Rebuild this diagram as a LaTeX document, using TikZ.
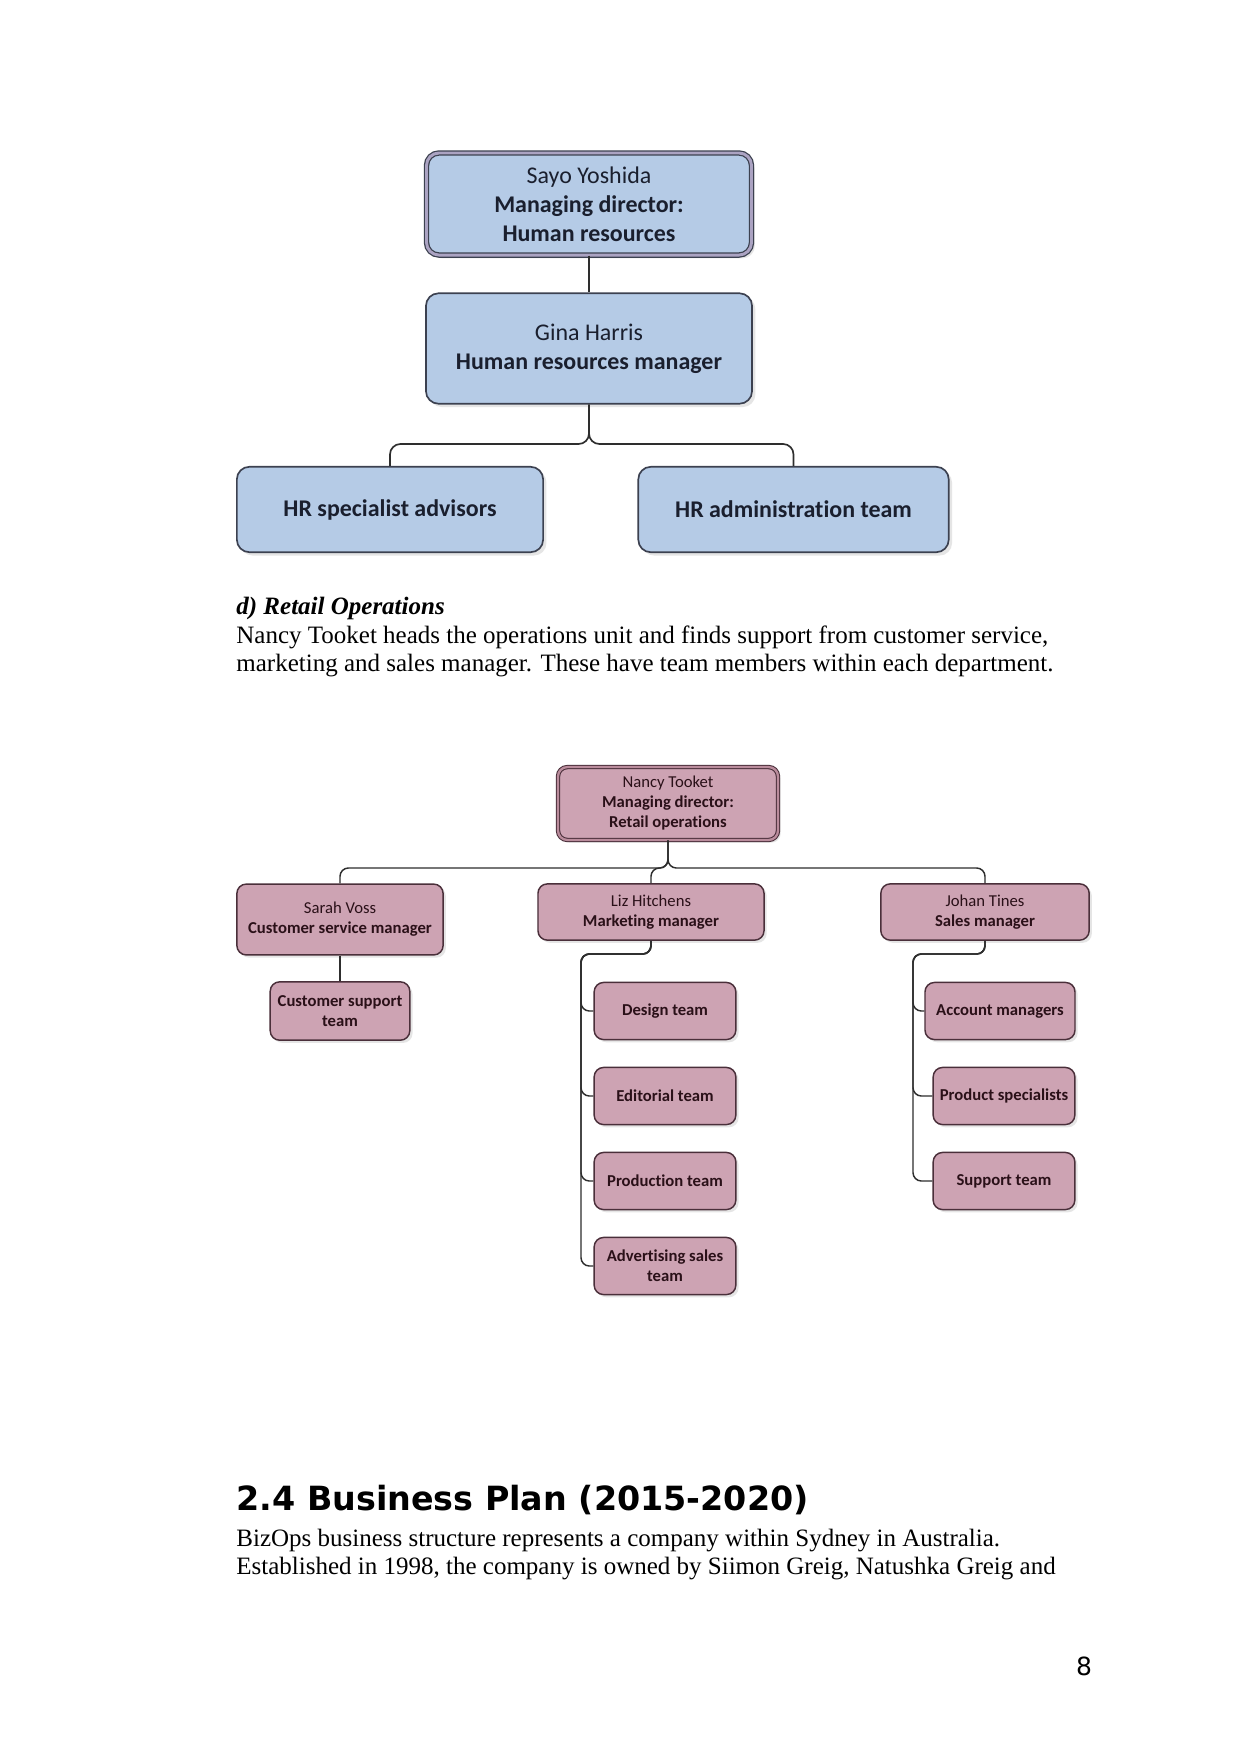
\documentclass[tikz,border=0pt]{standalone}
\usepackage{fontspec}
\setmainfont{Liberation Serif}
\newfontfamily\chartfont[Ligatures=NoCommon]{Carlito}
\newfontfamily\headfont{DejaVu Sans}
\usetikzlibrary{shadows}
\definecolor{bluefill}{HTML}{B5CBE6}
\definecolor{blueline}{HTML}{3C4150}
\definecolor{bluering}{HTML}{ABA3C2}
\definecolor{bluetext}{HTML}{1A1F2E}
\definecolor{pinkfill}{HTML}{CDA3B3}
\definecolor{pinkline}{HTML}{4A2F3A}
\definecolor{pinkring}{HTML}{BA8C9C}
\definecolor{pinktext}{HTML}{2A1018}
\definecolor{conn}{HTML}{2E2E2E}
\tikzset{
  hrbox/.style={draw=blueline, line width=0.8pt, fill=bluefill, rounded corners=6pt,
    align=center, text=bluetext, font=\chartfont\fontsize{11.5}{14}\selectfont,
    drop shadow={shadow xshift=1.6pt, shadow yshift=-1.6pt, fill=black!20}, inner sep=2pt},
  hrtop/.style={hrbox, line width=0.6pt, double=bluering, double distance=1.4pt},
  rbox/.style={draw=pinkline, line width=0.7pt, fill=pinkfill, rounded corners=4.5pt,
    align=center, text=pinktext, font=\chartfont\fontsize{8}{9.6}\selectfont,
    drop shadow={shadow xshift=1.3pt, shadow yshift=-1.3pt, fill=black!20}, inner sep=1.5pt},
  rtop/.style={rbox, line width=0.5pt, double=pinkring, double distance=1.1pt},
  hrlink/.style={draw=conn, line width=0.8pt, rounded corners=5pt},
  rlink/.style={draw=conn, line width=0.7pt, rounded corners=4pt},
  bodytext/.style={anchor=west, inner sep=0pt, font=\fontsize{12}{14}\selectfont}
}
\begin{document}
\begin{tikzpicture}[x=0.48pt,y=-0.48pt]
\useasboundingbox (0,0) rectangle (1241,1754);
\fill[white] (0,0) rectangle (1241,1754);

% ---------- HR chart ----------
\node[hrtop, minimum width=156pt, minimum height=49pt] (sayo) at (589,204)
  {Sayo Yoshida\\\textbf{Managing director:}\\\textbf{Human resources}};
\node[hrbox, minimum width=156.5pt, minimum height=53pt] (gina) at (589,348.5)
  {Gina Harris\\\textbf{Human resources manager}};
\node[hrbox, minimum width=147pt, minimum height=41pt] (hrspec) at (390,509.5)
  {\textbf{HR specialist advisors}};
\node[hrbox, minimum width=149pt, minimum height=41pt] (hradmin) at (793.5,509.5)
  {\textbf{HR administration team}};
\coordinate (hrbus) at (589,444);
\draw[hrlink] (sayo.south) -- (gina.north);
\draw[hrlink] (gina.south) -- (gina.south |- hrbus) -| (hrspec.north);
\draw[hrlink] (gina.south) -- (gina.south |- hrbus) -| (hradmin.north);

% ---------- text ----------
\node[bodytext] (sect) at (236,608) {\textbf{\textit{d) Retail Operations}}};
\node[bodytext] (p1a) at (236,637) {Nancy Tooket heads the operations unit and finds support from customer service,};
\node[bodytext] (p1b) at (236,666) {marketing and sales manager. These have team members within each department.};

% ---------- Retail chart ----------
\node[rtop, minimum width=105.6pt, minimum height=35pt] (nancy) at (668,803.5)
  {Nancy Tooket\\\textbf{Managing director:}\\\textbf{Retail operations}};
\node[rbox, minimum width=99pt, minimum height=34pt] (sarah) at (340,919.5)
  {Sarah Voss\\\textbf{Customer service manager}};
\node[rbox, minimum width=108.5pt, minimum height=27pt] (liz) at (651,912)
  {Liz Hitchens\\\textbf{Marketing manager}};
\node[rbox, minimum width=100pt, minimum height=27pt] (johan) at (985,912)
  {Johan Tines\\\textbf{Sales manager}};
\node[rbox, minimum width=67pt, minimum height=28pt] (cst) at (340,1011)
  {\textbf{Customer support}\\\textbf{team}};
\node[rbox, minimum width=68pt, minimum height=27.4pt] (design) at (665,1011) {\textbf{Design team}};
\node[rbox, minimum width=68pt, minimum height=27.4pt] (edit) at (665,1096) {\textbf{Editorial team}};
\node[rbox, minimum width=68pt, minimum height=27.4pt] (prod) at (665,1181) {\textbf{Production team}};
\node[rbox, minimum width=68pt, minimum height=27.4pt] (adv) at (665,1266)
  {\textbf{Advertising sales}\\\textbf{team}};
\node[rbox, minimum width=72pt, minimum height=27.4pt] (acct) at (1000,1011) {\textbf{Account managers}};
\node[rbox, minimum width=68pt, minimum height=27.4pt] (prodspec) at (1004,1096) {\textbf{Product specialists}};
\node[rbox, minimum width=68pt, minimum height=27.4pt] (supp) at (1004,1181) {\textbf{Support team}};

\coordinate (rbus) at (668,868);
\draw[rlink] (nancy.south) -- (nancy.south |- rbus) -| (sarah.north);
\draw[rlink] (nancy.south) -- (nancy.south |- rbus) -| (liz.north);
\draw[rlink] (nancy.south) -- (nancy.south |- rbus) -| (johan.north);
\draw[rlink] (sarah.south) -- (cst.north);

\coordinate (mk) at (581,954);
\foreach \t in {design,edit,prod,adv}
  \draw[rlink] (liz.south) |- (mk) |- (\t.west);
\coordinate (sk) at (913,954);
\foreach \t in {acct,prodspec,supp}
  \draw[rlink] (johan.south) |- (sk) |- (\t.west);

% ---------- Business plan ----------
\node[anchor=west, inner sep=0pt, font=\headfont\bfseries\fontsize{16}{19}\selectfont] (head) at (236,1500)
  {2.4 Business Plan (2015-2020)};
\node[bodytext] (p2a) at (236,1541) {BizOps business structure represents a company within Sydney in Australia.};
\node[bodytext] (p2b) at (236,1569) {Established in 1998, the company is owned by Siimon Greig, Natushka Greig and};
\node[inner sep=0pt, font=\headfont\fontsize{12}{14}\selectfont] (pnum) at (1084,1666) {8};
\end{tikzpicture}
\end{document}
